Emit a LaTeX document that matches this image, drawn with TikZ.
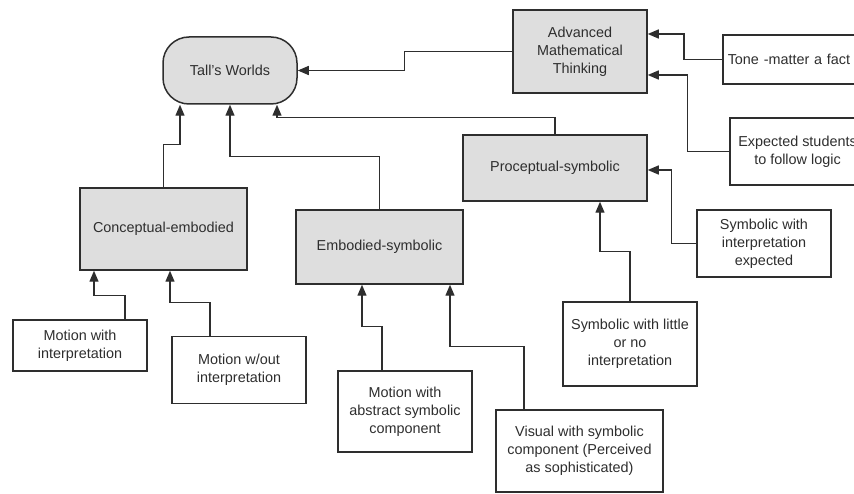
\documentclass[tikz,border=0pt]{standalone}
\usepackage{fontspec}
\setmainfont{Liberation Sans}
\usetikzlibrary{arrows.meta}
\definecolor{boxfill}{HTML}{DEDEDE}
\definecolor{ink}{HTML}{2E2E2E}
\tikzset{
  base/.style={draw=ink, line width=1.5pt, text=ink, inner sep=0pt, align=center,
    font=\fontsize{14.4}{18}\selectfont},
  gbox/.style={base, fill=boxfill, rectangle},
  wbox/.style={base, fill=white, rectangle},
  conn/.style={draw=ink, line width=1.4pt, -{Triangle[length=11pt,width=9pt]}},
}
\begin{document}
\begin{tikzpicture}[x=1pt,y=-1pt]
\useasboundingbox (0,0) rectangle (854,494);
\clip (0,0) rectangle (854,494);
% main nodes
\node[base, fill=boxfill, rounded corners=26pt, minimum width=134pt, minimum height=67pt] (tall) at (230,70.5) {Tall's Worlds};
\node[gbox, minimum width=134pt, minimum height=83pt] (amt) at (580,51.5) {Advanced\\Mathematical\\Thinking};
\node[gbox, minimum width=184pt, minimum height=66pt] (proc) at (555,168) {Proceptual-symbolic};
\node[gbox, minimum width=167pt, minimum height=82pt] (concept) at (163.5,229) {Conceptual-embodied};
\node[gbox, minimum width=167pt, minimum height=74pt] (emb) at (379.5,247) {Embodied-symbolic};
% leaf nodes
\node[wbox, anchor=west, minimum width=150pt, minimum height=49pt, text width=140pt, align=left, inner xsep=5pt] (tone) at (722,59.5) {Tone -matter a fact};
\node[wbox, minimum width=135pt, minimum height=67pt] (exp) at (797.5,151.5) {Expected students\\to follow logic};
\node[wbox, minimum width=134pt, minimum height=67pt] (symint) at (764,243.5) {Symbolic with\\interpretation\\expected};
\node[wbox, minimum width=134pt, minimum height=84pt] (symlit) at (630,344) {Symbolic with little\\or no\\interpretation};
\node[wbox, minimum width=134pt, minimum height=51pt] (motint) at (80,345.5) {Motion with\\interpretation};
\node[wbox, minimum width=134pt, minimum height=67pt] (motwo) at (239,370) {Motion w/out\\interpretation};
\node[wbox, minimum width=134pt, minimum height=81pt] (motabs) at (405,411.5) {Motion with\\abstract symbolic\\component};
\node[wbox, minimum width=167pt, minimum height=82pt] (visual) at (579.5,451) {Visual with symbolic\\component (Perceived\\as sophisticated)};
% connectors
\draw[conn] (amt.west) -- ++(-108,0) |- (tall.east);
\draw[conn] (tone.west) -- ++(-38,0) |- ([yshift=17.5pt]amt.east);
\draw[conn] (exp.west) -- ++(-42,0) |- ([yshift=-23.5pt]amt.east);
\draw[conn] (proc.north) -- ++(0,-17) -| ([xshift=47pt]tall.south);
\draw[conn] (symint.west) -- ++(-25,0) |- ([yshift=-2pt]proc.east);
\draw[conn] (symlit.north) -- ++(0,-50) -| ([xshift=45pt]proc.south);
\draw[conn] (concept.north) -- ++(0,-43) -| ([xshift=-50pt]tall.south);
\draw[conn] (emb.north) -- ++(0,-53) -| (tall.south);
\draw[conn] ([xshift=45pt]motint.north) -- ++(0,-24) -| ([xshift=-69.5pt]concept.south);
\draw[conn] ([xshift=-29pt]motwo.north) -- ++(0,-33) -| ([xshift=6.5pt]concept.south);
\draw[conn] ([xshift=-23pt]motabs.north) -- ++(0,-44) -| ([xshift=-17.5pt]emb.south);
\draw[conn] ([xshift=-55.5pt]visual.north) -- ++(0,-63) -| ([xshift=70.5pt]emb.south);
\end{tikzpicture}
\end{document}
